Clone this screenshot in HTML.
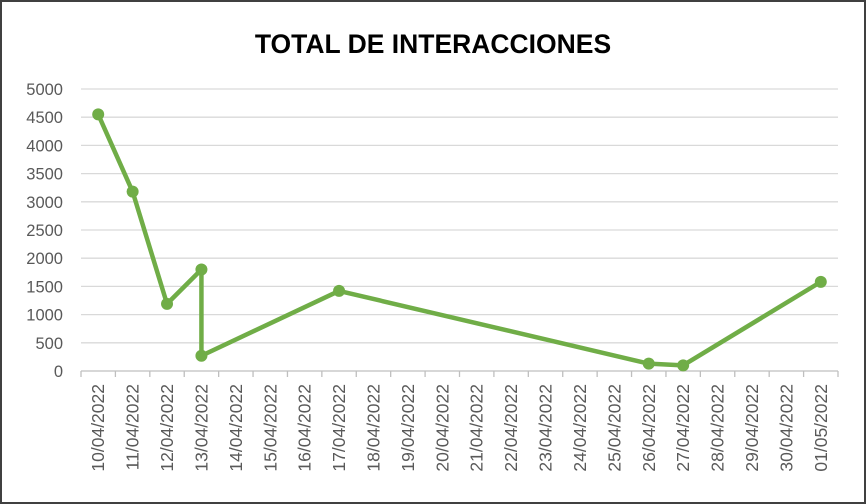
<!DOCTYPE html>
<html><head><meta charset="utf-8"><style>
html,body{margin:0;padding:0;background:#fff}
svg{display:block;font-family:"Liberation Sans",sans-serif}
</style></head><body>
<svg width="866" height="504">
<rect x="1" y="1" width="864" height="502" fill="#fff" stroke="#404040" stroke-width="2"/>
<text x="433" y="53" text-anchor="middle" font-size="26.5" font-weight="bold" fill="#000">TOTAL DE INTERACCIONES</text>
<g id="grid"></g><g id="yt"></g><g id="xt"></g><g id="series"></g>
</svg>
<script>
const categories=["10/04/2022","11/04/2022","12/04/2022","13/04/2022","14/04/2022","15/04/2022","16/04/2022","17/04/2022","18/04/2022","19/04/2022","20/04/2022","21/04/2022","22/04/2022","23/04/2022","24/04/2022","25/04/2022","26/04/2022","27/04/2022","28/04/2022","29/04/2022","30/04/2022","01/05/2022"];
const pointDates=["10/04/2022","11/04/2022","12/04/2022","13/04/2022","13/04/2022","17/04/2022","26/04/2022","27/04/2022","01/05/2022"];
const pointValues=[4550,3180,1190,1800,270,1420,130,100,1580];
const yTicks=[0,500,1000,1500,2000,2500,3000,3500,4000,4500,5000];
const NS="http://www.w3.org/2000/svg";
const X0=81,X1=838,Y0=371,Y1=89,YMAX=5000;
const bw=(X1-X0)/categories.length;
const xs=c=>X0+(categories.indexOf(c)+0.5)*bw;
const ys=v=>Y0-(v/YMAX)*(Y0-Y1);
function mk(t,a,p){const e=document.createElementNS(NS,t);for(const k in a)e.setAttribute(k,a[k]);p.appendChild(e);return e;}
const grid=document.getElementById('grid'),yt=document.getElementById('yt'),xt=document.getElementById('xt'),ser=document.getElementById('series');
yTicks.forEach(v=>{
 const l=mk('line',{x1:X0,x2:X1,y1:ys(v),y2:ys(v),stroke:v===0?'#bfbfbf':'#d9d9d9','stroke-width':1.3},grid);
 
 
 const t=mk('text',{x:63,y:ys(v)+6,'text-anchor':'end','font-size':16.5,fill:'#595959'},yt);
 t.textContent=v;
 
 
});
for(let i=0;i<=categories.length;i++){
 const x=X0+i*bw;
 const l=mk('line',{x1:x,x2:x,y1:Y0,y2:Y0+6,stroke:'#bfbfbf','stroke-width':1.3},xt);
 
 
}
categories.forEach(c=>{
 const x=xs(c)+6;
 const t=mk('text',{x:x,y:384,'text-anchor':'end','font-size':17.5,fill:'#595959',transform:`rotate(-90 ${x} 384)`},xt);
 t.textContent=c;
 
 
});
const pts=pointDates.map((d,i)=>xs(d)+','+ys(pointValues[i])).join(' ');
const pl=mk('polyline',{points:pts,fill:'none',stroke:'#70ad47','stroke-width':4.5,'stroke-linejoin':'round'},ser);


pointDates.forEach((d,i)=>{
 const c=mk('circle',{cx:xs(d),cy:ys(pointValues[i]),r:6,fill:'#70ad47'},ser);
 
 
});
</script>
</body></html>
